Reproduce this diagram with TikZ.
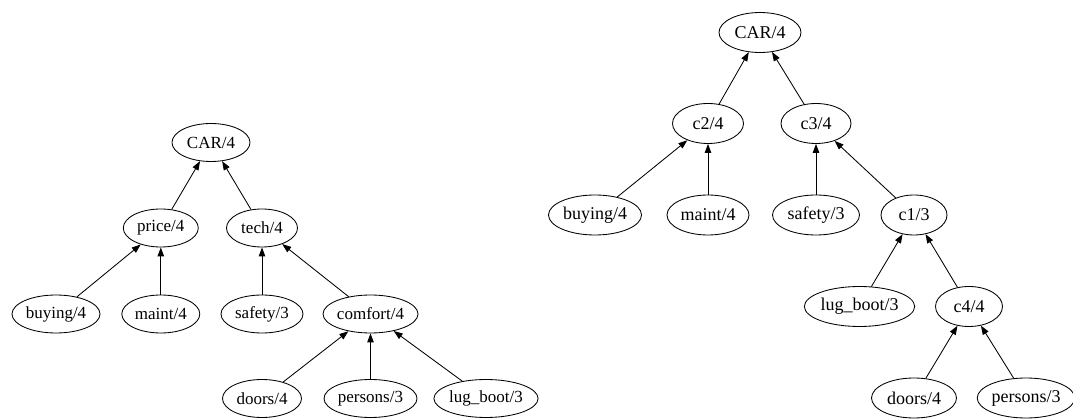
\documentclass[tikz,border=0pt]{standalone}
\usepackage{fontspec}
\setmainfont{Liberation Serif}
\usetikzlibrary{shapes.geometric,arrows.meta}
\tikzset{
  lnode/.style={draw, ellipse, line width=0.85pt, inner sep=0pt,
    minimum height=38pt, font=\fontsize{17}{19}\selectfont},
  rnode/.style={draw, ellipse, line width=0.85pt, inner sep=0pt,
    minimum height=40pt, font=\fontsize{18}{20}\selectfont},
  edge/.style={line width=0.85pt, -{Triangle[length=9pt,width=6.5pt]}},
}
\begin{document}
\begin{tikzpicture}[x=1pt,y=-1pt]
\useasboundingbox (0,0) rectangle (1073,419);

% first tree
\node[lnode, minimum width=78pt] (lcar)     at (211,142.5) {CAR/4};
\node[lnode, minimum width=75pt] (lprice)   at (160.8,228) {price/4};
\node[lnode, minimum width=71pt] (ltech)    at (262,228)   {tech/4};
\node[lnode, minimum width=88pt] (lbuying)  at (56,314)    {buying/4};
\node[lnode, minimum width=78pt] (lmaint)   at (160.8,314) {maint/4};
\node[lnode, minimum width=82pt] (lsafety)  at (262,314)   {safety/3};
\node[lnode, minimum width=95pt] (lcomfort) at (370.5,314) {comfort/4};
\node[lnode, minimum width=79pt] (ldoors)   at (262,398.5) {doors/4};
\node[lnode, minimum width=93pt] (lpersons) at (370.5,398.5) {persons/3};
\node[lnode, minimum width=98pt] (llug)     at (486,398.5) {lug\_boot/3};

\draw[edge] (lprice) -- (lcar);
\draw[edge] (ltech) -- (lcar);
\draw[edge] (lbuying) -- (lprice);
\draw[edge] (lmaint) -- (lprice);
\draw[edge] (lsafety) -- (ltech);
\draw[edge] (lcomfort) -- (ltech);
\draw[edge] (ldoors) -- (lcomfort);
\draw[edge] (lpersons) -- (lcomfort);
\draw[edge] (llug) -- (lcomfort);

% second tree
\node[rnode, minimum width=82pt]  (rcar)     at (760,32.5)  {CAR/4};
\node[rnode, minimum width=71pt]  (rc2)      at (708,123.5) {c2/4};
\node[rnode, minimum width=70pt]  (rc3)      at (816,123.5) {c3/4};
\node[rnode, minimum width=93pt]  (rbuying)  at (595,215)   {buying/4};
\node[rnode, minimum width=82pt]  (rmaint)   at (708,215)   {maint/4};
\node[rnode, minimum width=87pt]  (rsafety)  at (816,215)   {safety/3};
\node[rnode, minimum width=66pt]  (rc1)      at (914,215)   {c1/3};
\node[rnode, minimum width=106pt] (rlug)     at (859.5,306.5) {lug\_boot/3};
\node[rnode, minimum width=67pt]  (rc4)      at (969,306.5) {c4/4};
\node[rnode, minimum width=85pt]  (rdoors)   at (914,398)   {doors/4};
\node[rnode, minimum width=93pt]  (rpersons) at (1026,398)  {persons/3};

\draw[edge] (rc2) -- (rcar);
\draw[edge] (rc3) -- (rcar);
\draw[edge] (rbuying) -- (rc2);
\draw[edge] (rmaint) -- (rc2);
\draw[edge] (rsafety) -- (rc3);
\draw[edge] (rc1) -- (rc3);
\draw[edge] (rlug) -- (rc1);
\draw[edge] (rc4) -- (rc1);
\draw[edge] (rdoors) -- (rc4);
\draw[edge] (rpersons) -- (rc4);
\end{tikzpicture}
\end{document}
